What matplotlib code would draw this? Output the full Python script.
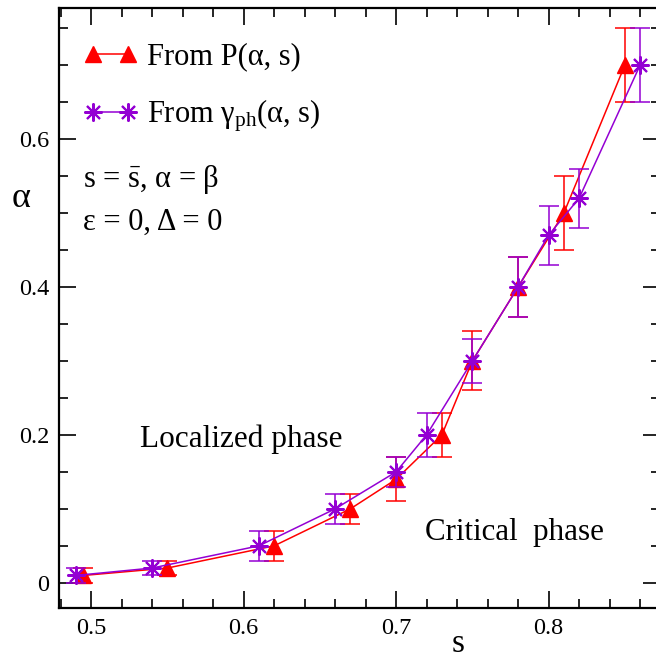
import matplotlib
matplotlib.use('Agg')
import matplotlib.pyplot as plt
from matplotlib.ticker import MultipleLocator, FuncFormatter

# Data: From P(alpha, s)
s_P = [0.495, 0.55, 0.62, 0.67, 0.70, 0.73, 0.75, 0.78, 0.81, 0.85]
alpha_P = [0.01, 0.02, 0.05, 0.10, 0.14, 0.20, 0.30, 0.40, 0.50, 0.70]
err_P = [0.01, 0.01, 0.02, 0.02, 0.03, 0.03, 0.04, 0.04, 0.05, 0.05]

# Data: From gamma_ph(alpha, s)
s_G = [0.49, 0.54, 0.61, 0.66, 0.70, 0.72, 0.75, 0.78, 0.80, 0.82, 0.86]
alpha_G = [0.01, 0.02, 0.05, 0.10, 0.15, 0.20, 0.30, 0.40, 0.47, 0.52, 0.70]
err_G = [0.01, 0.01, 0.02, 0.02, 0.02, 0.03, 0.03, 0.04, 0.04, 0.04, 0.05]

plt.rcParams['font.family'] = ['Liberation Serif', 'DejaVu Serif']
plt.rcParams['mathtext.default'] = 'regular'

RED = '#ff0000'
PURPLE = '#9400d3'

fig = plt.figure(figsize=(6.56, 6.59), dpi=100)
ax = fig.add_axes([59/656, (659-608)/659, 601/656, 600/659])

star = (8, 2, 0)

ax.errorbar(s_P, alpha_P, yerr=err_P, fmt='none', ecolor=RED, elinewidth=1.1,
            capsize=7, capthick=1.1, zorder=2)
lP, = ax.plot(s_P, alpha_P, color=RED, lw=1.1, marker='^', ms=11,
              markerfacecolor=RED, markeredgecolor=RED, zorder=3,
              label=r'From P(α, s)')
ax.errorbar(s_G, alpha_G, yerr=err_G, fmt='none', ecolor=PURPLE, elinewidth=1.1,
            capsize=7, capthick=1.1, zorder=4)
lG, = ax.plot(s_G, alpha_G, color=PURPLE, lw=1.1, marker=star, ms=13,
              markeredgewidth=1.5, markeredgecolor=PURPLE, zorder=5,
              label=r'From $γ_{ph}$(α, s)')

ax.set_xlim(0.479, 0.873)
ax.set_ylim(-0.034, 0.777)

ax.xaxis.set_major_locator(MultipleLocator(0.1))
ax.xaxis.set_minor_locator(MultipleLocator(0.02))
ax.yaxis.set_major_locator(MultipleLocator(0.2))
ax.yaxis.set_minor_locator(MultipleLocator(0.05))
fmt = FuncFormatter(lambda v, p: '%g' % round(v, 6))
ax.xaxis.set_major_formatter(fmt)
ax.yaxis.set_major_formatter(fmt)

ax.tick_params(which='both', direction='in', top=True, right=True, width=1.2,
               labelsize=17.5)
ax.tick_params(which='major', length=12, pad=7)
ax.tick_params(which='minor', length=6.5)
for sp in ax.spines.values():
    sp.set_linewidth(1.6)

ax.set_xlabel('s', fontsize=24)
ax.xaxis.set_label_coords(0.664, -0.035)
ax.set_ylabel('α', fontsize=26, rotation=0, va='center', ha='center')
ax.yaxis.set_label_coords(-0.063, 0.683)

leg = ax.legend(handles=[lP, lG], loc='upper left', bbox_to_anchor=(0.0416, 0.943),
                frameon=False, numpoints=2, fontsize=22, handlelength=1.75,
                handletextpad=0.3, labelspacing=0.87, borderaxespad=0.0,
                borderpad=0.0)

ax.text(0.4948, 0.535, r's = $\bar{s}$, α = β', fontsize=22, ha='left', va='baseline')
ax.text(0.4948, 0.477, 'ε = 0, Δ = 0', fontsize=22, ha='left', va='baseline')
ax.text(0.532, 0.184, 'Localized phase', fontsize=22.5, ha='left', va='baseline')
ax.text(0.719, 0.058, 'Critical  phase', fontsize=22.3, ha='left', va='baseline')

fig.savefig('out.png', dpi=100)
